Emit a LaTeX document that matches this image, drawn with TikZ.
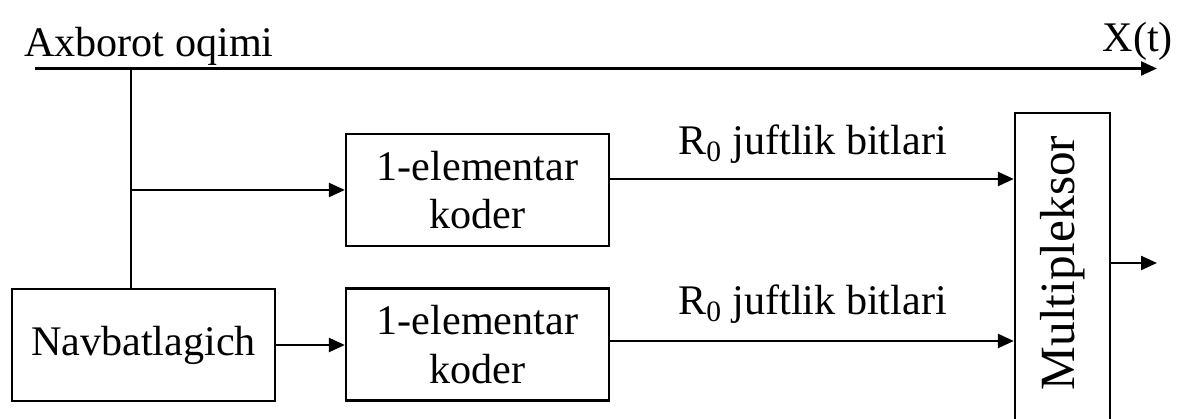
\documentclass[tikz,border=0pt]{standalone}
\usepackage{fontspec}
\setmainfont{Liberation Serif}
\usepackage{tikz}
\usetikzlibrary{arrows.meta}

\begin{document}
\begin{tikzpicture}[line width=1.3pt, >={Triangle[length=3.2mm, width=2.8mm]},
    every node/.style={font=\fontsize{24}{27.5}\selectfont},
    blok/.style={draw, rectangle, minimum width=5.26cm, minimum height=2.24cm, inner sep=0pt, align=center}]
    \useasboundingbox (0,0) rectangle (23.6,8.38);

    % Axborot oqimi
    \coordinate (kirish) at (0.70,7.01);
    \coordinate (tugun) at (2.62,7.01);
    \coordinate (chiqish) at (23.14,7.01);
    \node[anchor=base west, inner sep=0pt] (oqim) at (0.46,7.24) {Axborot oqimi};
    \node[anchor=base east, inner sep=0pt] (xt) at (23.48,7.34) {X(t)};
    \draw[->] (kirish) -- (chiqish);

    % Bloklar
    \node[blok] (nav) at (2.87,1.48) {Navbatlagich};
    \node[blok] (kod1) at (9.55,4.58) {1-elementar\\koder};
    \node[blok] (kod2) at (9.55,1.49) {1-elementar\\koder};
    \node[draw, rectangle, minimum width=1.9cm, minimum height=6.34cm, inner sep=0pt] (mux) at (21.25,2.95) {};
    \node[rotate=90, inner sep=0pt, font=\fontsize{28}{32}\selectfont] (muxtext) at (21.25,3.12) {Multipleksor};
    \coordinate (muxchiq) at (23.14,3.12);

    % Ulanishlar
    \draw (tugun) -- (tugun |- nav.north);
    \draw[->] (tugun |- kod1.west) -- (kod1.west);
    \draw[->] (nav.east) -- (nav.east -| kod2.west);
    \draw[->] ([yshift=0.22cm]kod1.east) -- ([yshift=0.22cm]kod1.east -| mux.west);
    \draw[->] ([yshift=0.07cm]kod2.east) -- ([yshift=0.07cm]kod2.east -| mux.west);
    \draw[->] (muxchiq -| mux.east) -- (muxchiq);

    % Yorliqlar
    \node[anchor=base west, inner sep=0pt] (r1) at (13.54,5.28) {R\textsubscript{0} juftlik bitlari};
    \node[anchor=base west, inner sep=0pt] (r2) at (13.54,2.08) {R\textsubscript{0} juftlik bitlari};
\end{tikzpicture}
\end{document}
